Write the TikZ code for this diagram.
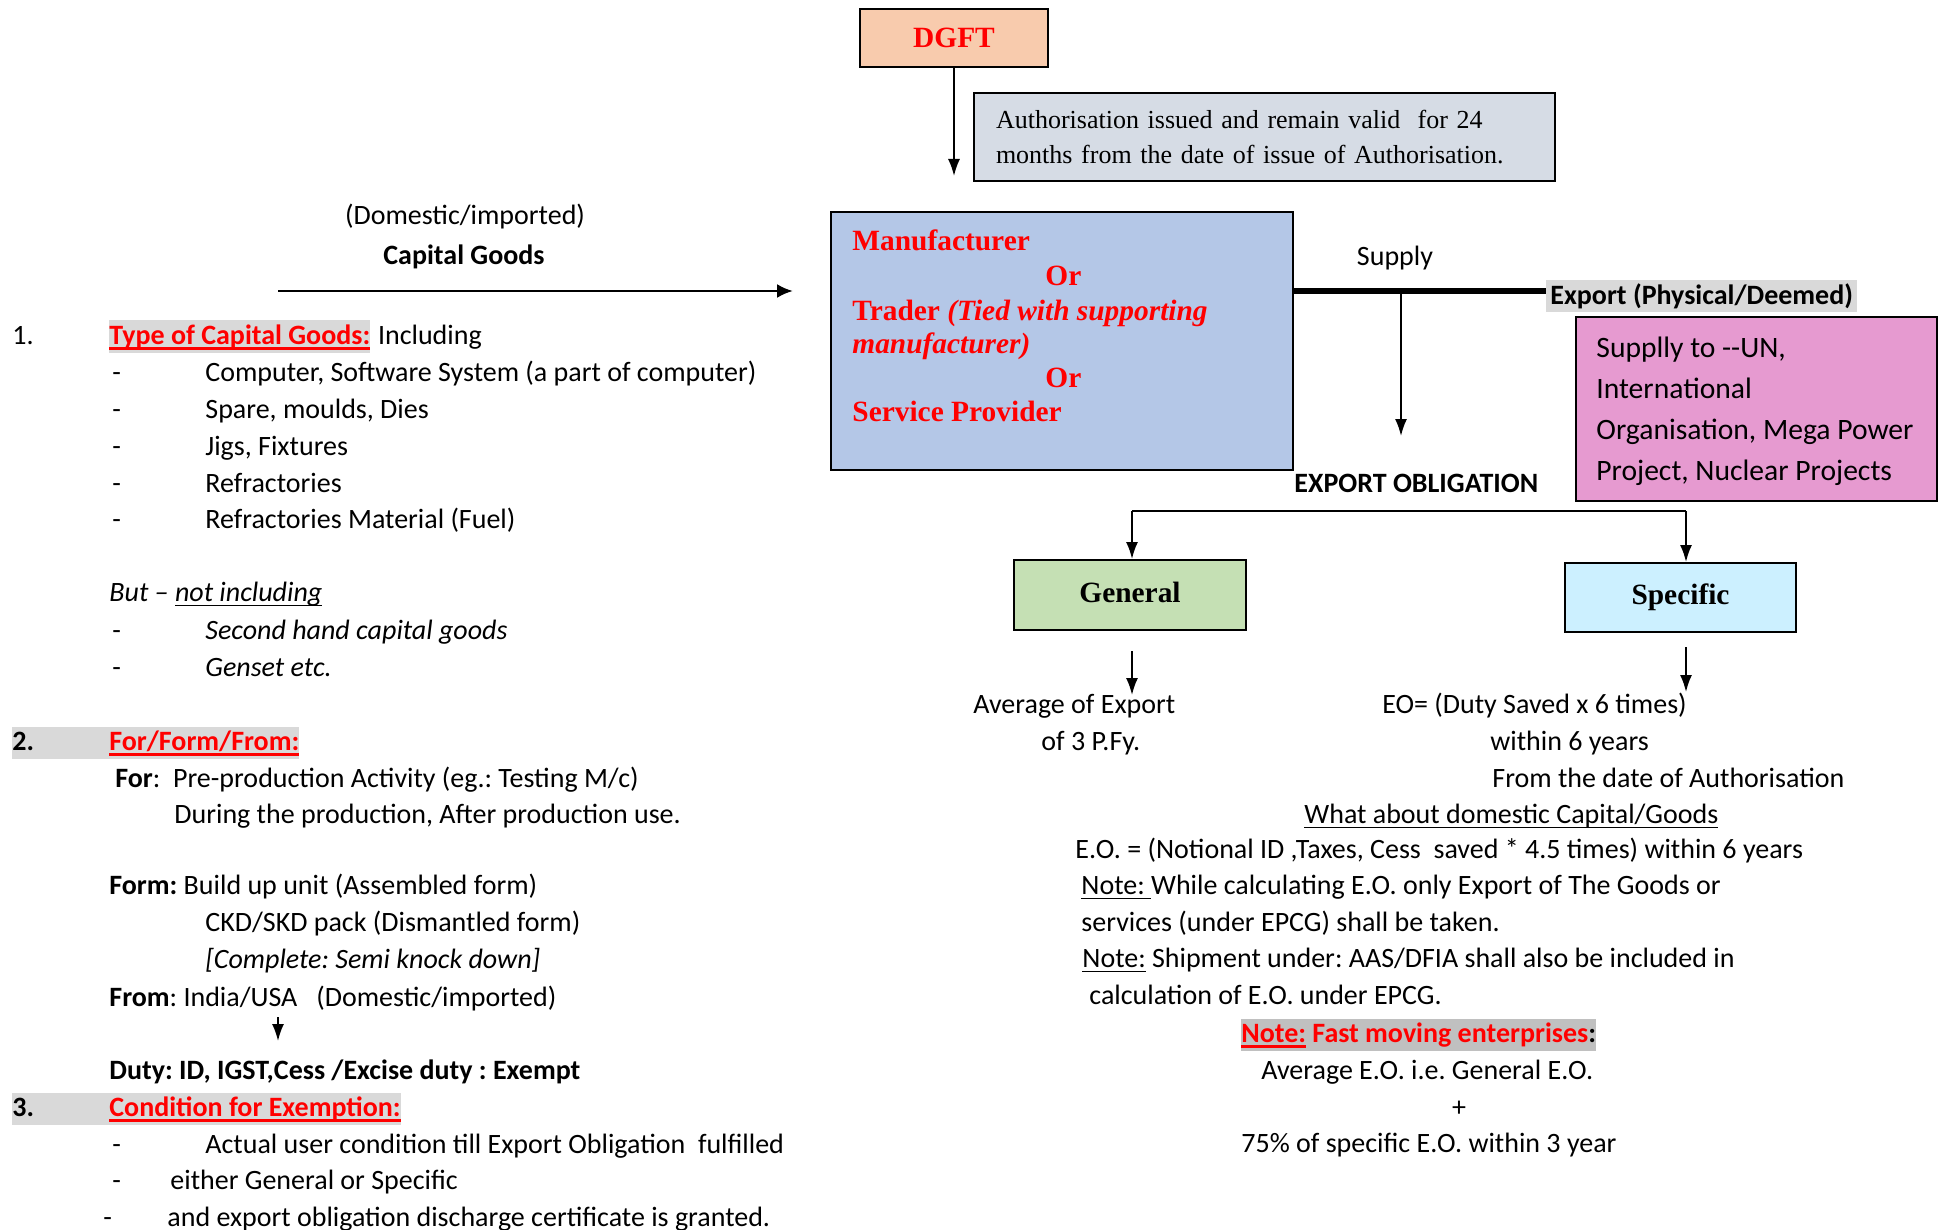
\documentclass[tikz,border=0pt]{standalone}
\usepackage{fontspec}
\setmainfont{Carlito}
\newfontfamily\tmsfont{Liberation Serif}
\usetikzlibrary{arrows.meta,positioning}
\frenchspacing

\definecolor{peach}{HTML}{F8CBAD}
\definecolor{authgray}{HTML}{D6DCE5}
\definecolor{mfrblue}{HTML}{B4C7E7}
\definecolor{expink}{HTML}{E69AD0}
\definecolor{gengreen}{HTML}{C5E0B4}
\definecolor{speccyan}{HTML}{CCF0FF}
\definecolor{hlgray}{HTML}{D9D9D9}
\definecolor{hldark}{HTML}{C0C0C0}

\newsavebox\ulbox
\newcommand\ulline[3]{\sbox\ulbox{#3}\usebox\ulbox\llap{\rule[#1]{\wd\ulbox}{#2}}}
\newcommand\redhead[1]{{\color{red}\bfseries\ulline{-2.6pt}{1.2pt}{#1}}}
\newcommand\ulthin[1]{\ulline{-2.2pt}{0.6pt}{#1}}

\tikzset{
  txt/.style = {anchor = base west, inner sep = 0pt, yshift = -1.25pt, font = \fontsize{14}{17}\selectfont},
  ctxt/.style = {txt, anchor = base},
  hl/.style = {txt, fill = hlgray, text height = 12pt, text depth = 4pt, inner ysep = 0pt},
  boxed/.style = {draw, line width = 1pt, shape = rectangle},
  serifbox/.style = {boxed, text depth = 3pt, font = \tmsfont\bfseries\fontsize{14.7}{17}\selectfont},
  serifred/.style = {txt, font = \tmsfont\bfseries\fontsize{14.7}{17}\selectfont, text = red},
  arr/.style = {-{Latex[length = 8.5pt, width = 6pt]}, line width = 0.9pt},
}

\begin{document}
\begin{tikzpicture}[x = 0.5pt, y = -0.5pt]
\useasboundingbox (0,0) rectangle (1944,1230);

\node[serifbox, text depth = 0pt, fill = peach, minimum width = 94pt, minimum height = 29pt, text = red] (dgft) at (954,38) {DGFT};
\coordinate (dgfte) at (954,176);
\draw[arr] (dgft.south) -- (dgfte);
\node[boxed, fill = authgray, minimum width = 290.5pt, minimum height = 44pt, text width = 268.5pt, inner xsep = 11pt, align = left, font = \tmsfont\fontsize{13}{17.5}\selectfont] (auth) at (1264.5,137) {Authorisation issued and remain valid\ \ for 24\\months from the date of issue of Authorisation.};

\node[boxed, fill = mfrblue, minimum width = 231pt, minimum height = 129pt] (mfr) at (1062,341) {};
\node[serifred] (m1) at (852,248) {Manufacturer};
\node[serifred] (m2) at (1045,283) {Or};
\node[serifred] (m3) at (852,318) {Trader \textit{(Tied with supporting}};
\node[serifred] (m4) at (852,351) {\textit{manufacturer)}};
\node[serifred] (m5) at (1045,385) {Or};
\node[serifred] (m6) at (852,419) {Service Provider};

\coordinate (supj) at (1401,291);
\coordinate (eoend) at (1401,436);
\node[ctxt] (supply) at (1395,263) {Supply};
\node[hl, font = \bfseries\fontsize{14}{17}\selectfont, inner xsep = 2pt] (exp) at (1546,302) {Export (Physical/Deemed)};
\draw[line width = 2.8pt] (mfr.east |- supj) -- (exp.west |- supj);
\draw[arr] (supj) -- (eoend);
\node[txt, font = \bfseries\fontsize{14}{17}\selectfont] (eo) at (1294,490) {EXPORT OBLIGATION};
\node[boxed, fill = expink, minimum width = 180.5pt, minimum height = 92pt] (un) at (1756.5,409) {};
\foreach \y/\t in {355/{Supplly to -{}-UN,}, 396/{International}, 437/{Organisation, Mega Power}, 478/{Project, Nuclear Projects}}
  \node[txt, font = \fontsize{14.8}{17}\selectfont] (un\y) at (1596,\y) {\t};

\coordinate (br) at (1409,511);
\node[serifbox, fill = gengreen, minimum width = 116pt, minimum height = 35pt] (gen) at (1130,595) {General};
\node[serifbox, fill = speccyan, minimum width = 115.5pt, minimum height = 34.5pt] (spec) at (1680.5,597.5) {Specific};
\draw[line width = 0.9pt] ([xshift = 1pt]gen.north |- br) -- ([xshift = 2.75pt]spec.north |- br);
\draw[arr] ([xshift = 1pt]gen.north |- br) -- ([xshift = 1pt]gen.north);
\draw[arr] ([xshift = 2.75pt]spec.north |- br) -- ([xshift = 2.75pt]spec.north);
\draw[arr] ([xshift = 1pt, yshift = -10pt]gen.south) -- ([xshift = 1pt, yshift = -32pt]gen.south);
\draw[arr] ([xshift = 2.75pt, yshift = -7pt]spec.south) -- ([xshift = 2.75pt, yshift = -29.5pt]spec.south);

\node[txt] (avg) at (973,711) {Average of Export};
\node[txt] (pfy) at (1041,748) {of 3 P.Fy.};
\node[txt] (eo6) at (1382,711) {EO= (Duty Saved x 6 times)};
\node[txt] (w6) at (1490,748) {within 6 years};
\node[txt] (fda) at (1492,785) {From the date of Authorisation};
\node[txt] (dom) at (1304,821) {\ulthin{What about domestic Capital/Goods}};
\node[txt] (eon) at (1075,856) {E.O. = (Notional ID ,Taxes, Cess\ \ saved * 4.5 times) within 6 years};
\node[txt] (n1) at (1081,892) {\ulthin{Note:\ }While calculating E.O. only Export of The Goods or};
\node[txt] (n1b) at (1081,929) {services (under EPCG) shall be taken.};
\node[txt] (n2) at (1082,965) {\ulthin{Note:} Shipment under: AAS/DFIA shall also be included in};
\node[txt] (n2b) at (1089,1002) {calculation of E.O. under EPCG.};
\node[hl, fill = hldark] (fast) at (1241,1040) {\redhead{Note:}\textcolor{red}{\bfseries\ Fast moving enterprises}\textbf{:}};
\node[txt] (avgeo) at (1261,1077) {Average E.O. i.e. General E.O.};
\node[ctxt] (plus) at (1459,1114) {+};
\node[txt] (pct) at (1241,1150) {75\% of specific E.O. within 3 year};

\node[ctxt] (domimp) at (465,222) {(Domestic/imported)};
\node[ctxt, font = \bfseries\fontsize{14}{17}\selectfont] (cg) at (464,262) {Capital Goods};
\coordinate (cga) at (278,291);
\coordinate (cgb) at (793,291);
\draw[-{Latex[length = 8pt, width = 7pt]}, line width = 1.3pt] (cga) -- (cgb);

\node[txt] (s1) at (12,342) {1.};
\node[hl] (tcg) at (109,342) {\redhead{Type of Capital Goods:}};
\node[txt] (incl) at ([xshift = 3.5pt, yshift = 1.25pt]tcg.base east) {Including};
\foreach \y/\t in {379/{Computer, Software System (a part of computer)}, 416/{Spare, moulds, Dies}, 453/{Jigs, Fixtures}, 490/{Refractories}, 526/{Refractories Material (Fuel)}, 637/{\itshape Second hand capital goods}, 674/{\itshape Genset etc.}}
{
  \node[txt] (d\y) at (112,\y) {-};
  \node[txt] (i\y) at (205,\y) {\t};
}
\node[txt] (but) at (109,599) {\itshape But -- \ulthin{not including}};

\node[hl] (s2) at (12,748) {\makebox[48.5pt][l]{\textbf{2.}}\redhead{For/Form/From:}};
\node[txt] (for) at (115,785) {\textbf{For}:\ \ Pre-production Activity (eg.: Testing M/c)};
\node[txt] (during) at (174,821) {During the production, After production use.};
\node[txt] (form) at (109,892) {\textbf{Form:} Build up unit (Assembled form)};
\node[txt] (ckd) at (205,929) {CKD/SKD pack (Dismantled form)};
\node[txt] (skd) at (205,966) {\itshape [Complete: Semi knock down]};
\node[txt] (from) at (109,1004) {\textbf{From}: India/USA\ \ \ (Domestic/imported)};
\coordinate (fra) at (278,1017);
\coordinate (frb) at (278,1041);
\draw[arr] (fra) -- (frb);
\node[txt, font = \bfseries\fontsize{14}{17}\selectfont] (duty) at (109,1077) {Duty: ID, IGST,Cess /Excise duty : Exempt};

\node[hl] (s3) at (12,1114) {\makebox[48.5pt][l]{\textbf{3.}}\redhead{Condition for Exemption:}};
\node[txt] (d1151) at (112,1151) {-};
\node[txt] (i1151) at (205,1151) {Actual user condition till Export Obligation\ \ fulfilled};
\node[txt] (d1187) at (112,1187) {-};
\node[txt] (i1187) at (170,1187) {either General or Specific};
\node[txt] (d1224) at (103,1224) {-};
\node[txt] (i1224) at (167,1224) {and export obligation discharge certificate is granted.};
\end{tikzpicture}
\end{document}
